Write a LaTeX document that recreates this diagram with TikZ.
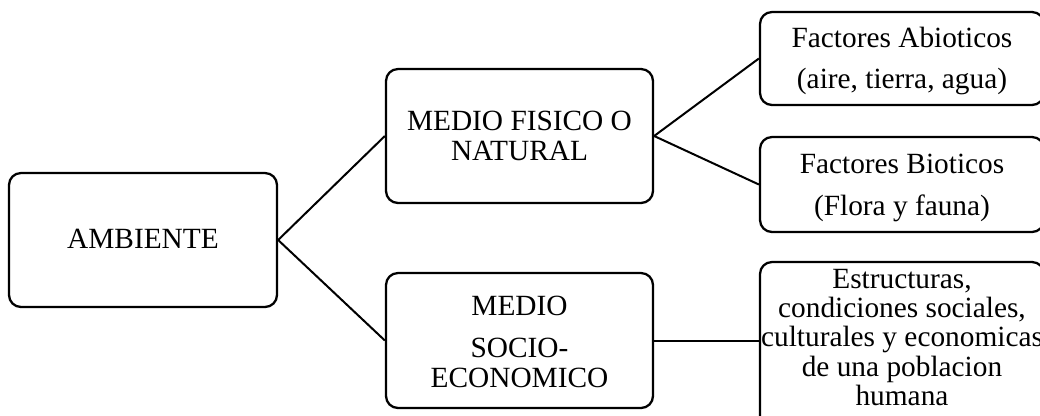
\documentclass[tikz,border=0pt]{standalone}
\usepackage{fontspec}
\setmainfont{Liberation Serif}
\begin{document}
\begin{tikzpicture}[x=0.75pt,y=-0.75pt,
  box/.style={draw, line width=1.7pt, rounded corners=9pt, inner sep=0pt,
    font=\fontsize{22}{23}\selectfont, text height=0pt},
  link/.style={line width=1.5pt}]
\clip (0,0) rectangle (1040,415);
\node[box, minimum width=201pt, minimum height=100.5pt, text height=12pt, text depth=0pt]
  (amb) at (143,240) {\begin{tabular}[t]{@{}c@{}}AMBIENTE\end{tabular}};
\node[box, minimum width=200.25pt, minimum height=100.5pt, text depth=9pt]
  (fis) at (519.5,136) {\begin{tabular}[t]{@{}c@{}}MEDIO FISICO O\\NATURAL\end{tabular}};
\node[box, minimum width=200.25pt, minimum height=101.25pt, text depth=38.25pt]
  (soc) at (519.5,340.5) {\begin{tabular}[t]{@{}c@{}}MEDIO\\[8.5pt]SOCIO-\\ECONOMICO\end{tabular}};
\node[box, minimum width=213pt, minimum height=69.75pt, text depth=17.25pt]
  (abi) at (902,58.5) {\begin{tabular}[t]{@{}c@{}}Factores Abioticos\\[8pt](aire, tierra, agua)\end{tabular}};
\node[box, minimum width=213pt, minimum height=71.25pt, text depth=17.25pt]
  (bio) at (902,184.5) {\begin{tabular}[t]{@{}c@{}}Factores Bioticos\\[8.5pt](Flora y fauna)\end{tabular}};
\node[box, minimum width=213pt, minimum height=133.5pt, text depth=94.5pt,
  font=\fontsize{22}{22}\selectfont]
  (est) at (902,351) {\begin{tabular}[t]{@{}c@{}}Estructuras,\\condiciones sociales,\\culturales y economicas\\de una poblacion\\humana\end{tabular}};
\draw[link] (amb.east) -- (fis.west);
\draw[link] (amb.east) -- (soc.west);
\draw[link] (fis.east) -- (abi.west);
\draw[link] (fis.east) -- (bio.west);
\draw[link] (soc.east) -- (soc.east -| est.west);
\end{tikzpicture}
\end{document}
